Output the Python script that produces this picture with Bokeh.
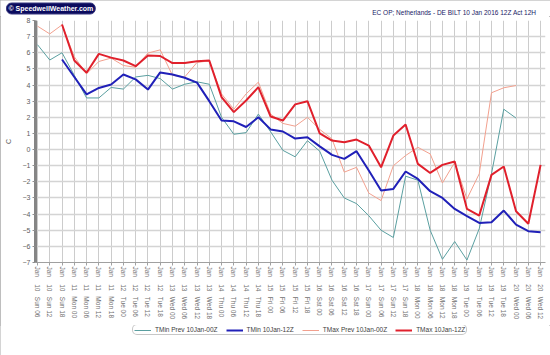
import math
from bokeh.plotting import figure
from bokeh.layouts import column
from bokeh.models import FixedTicker, Label, Legend, LegendItem, Range1d
from bokeh.embed import file_html
from bokeh.resources import INLINE

# ---------------- data ----------------
x_labels = [
    "Jan 10 Sun 06", "Jan 10 Sun 12", "Jan 10 Sun 18",
    "Jan 11 Mon 00", "Jan 11 Mon 06", "Jan 11 Mon 12", "Jan 11 Mon 18",
    "Jan 12 Tue 00", "Jan 12 Tue 06", "Jan 12 Tue 12", "Jan 12 Tue 18",
    "Jan 13 Wed 00", "Jan 13 Wed 06", "Jan 13 Wed 12", "Jan 13 Wed 18",
    "Jan 14 Thu 00", "Jan 14 Thu 06", "Jan 14 Thu 12", "Jan 14 Thu 18",
    "Jan 15 Fri 00", "Jan 15 Fri 06", "Jan 15 Fri 12", "Jan 15 Fri 18",
    "Jan 16 Sat 00", "Jan 16 Sat 06", "Jan 16 Sat 12", "Jan 16 Sat 18",
    "Jan 17 Sun 00", "Jan 17 Sun 06", "Jan 17 Sun 12", "Jan 17 Sun 18",
    "Jan 18 Mon 00", "Jan 18 Mon 06", "Jan 18 Mon 12", "Jan 18 Mon 18",
    "Jan 19 Tue 00", "Jan 19 Tue 06", "Jan 19 Tue 12", "Jan 19 Tue 18",
    "Jan 20 Wed 00", "Jan 20 Wed 06", "Jan 20 Wed 12",
]

# previous run (00Z): Jan 10 06 .. Jan 20 00
prev_idx = list(range(0, 40))
tmin_prev = [6.5, 5.55, 6.0, 4.6, 3.2, 3.2, 3.85, 3.75, 4.5, 4.6,
             4.4, 3.75, 4.05, 4.2, 4.05, 2.0, 0.95, 1.05, 2.2, 1.1,
             -0.05, -0.45, 0.55, -0.1, -1.9, -3.0, -3.35, -4.1, -5.0, -5.45,
             -1.65, -1.9, -5.0, -6.8, -5.7, -6.85, -4.9, -1.5, 2.5, 1.95]
tmax_prev = [7.65, 7.17, 7.73, 5.75, 4.7, 5.46, 5.67, 5.21, 5.1, 5.98,
             6.18, 4.6, 4.5, 5.4, 5.5, 3.45, 2.5, 3.45, 4.18, 2.2,
             1.62, 1.45, 2.0, 1.25, 0.66, -1.4, -1.1, -2.7, -3.16, -1.0,
             -0.37, 0.14, -0.27, -2.07, -0.79, -3.06, -1.5, 3.52, 3.83, 3.97]

# current run (12Z): Jan 10 18 .. Jan 20 12
cur_idx = list(range(2, 42))
tmin_cur = [5.58, 4.5, 3.42, 3.82, 4.03, 4.65, 4.35, 3.72, 4.78, 4.65,
            4.45, 4.15, 3.0, 1.8, 1.75, 1.4, 2.0, 1.25, 1.12, 0.68,
            0.76, 0.2, -0.33, -0.58, -0.1, -1.3, -2.54, -2.44, -1.36, -1.82,
            -2.58, -3.0, -3.68, -4.13, -4.55, -4.5, -3.78, -4.65, -5.06, -5.12]
tmax_cur = [7.75, 5.52, 4.76, 5.93, 5.7, 5.52, 5.17, 5.83, 5.8, 5.36,
            5.36, 5.48, 5.52, 3.25, 2.32, 3.04, 3.87, 2.05, 1.8, 2.8,
            3.0, 1.0, 0.56, 0.45, 0.62, 0.25, -1.1, 0.87, 1.55, -0.89,
            -1.45, -0.95, -0.74, -3.68, -4.09, -1.57, -1.05, -3.82, -4.6, -0.95]

y_ticks = list(range(-7, 9))
series_names = ["TMin Prev 10Jan-00Z", "TMin 10Jan-12Z",
                "TMax Prev 10Jan-00Z", "TMax 10Jan-12Z"]
series_colors = ["#5a9fa0", "#2020b8", "#f2a08e", "#e0202c"]
series_widths = [1, 2, 1, 2]
title_text = "EC OP; Netherlands - DE BILT 10 Jan 2016 12Z Act 12H"
logo_text = "\u00a9 SpeedwellWeather.com"
y_title = "C"

FONT = "Liberation Sans"

def bare(h):
    f = figure(width=550, height=h, x_range=Range1d(0, 550), y_range=Range1d(h, 0),
               output_backend="svg", toolbar_location=None, min_border=0,
               x_axis_type=None, y_axis_type=None)
    f.outline_line_color = None
    f.border_fill_color = "white"
    f.background_fill_color = "white"
    try:
        f.frame_align = False
    except Exception:
        pass
    return f

# ---------------- header strip (logo + title) ----------------
hdr = bare(16)
hdr.add_layout(Label(x=6, y=8, text=logo_text,
                     text_font=FONT, text_font_size="7px", text_font_style="bold",
                     text_color="white", text_align="left", text_baseline="middle",
                     background_fill_color="#0b0b5e", border_line_color="#3a3a80",
                     padding=2, border_radius=5))
hdr.add_layout(Label(x=536, y=12, text=title_text,
                     text_font=FONT, text_font_size="6.5px", text_color="#1a1a66",
                     text_align="right", text_baseline="middle"))

# ---------------- main chart ----------------
p = figure(width=550, height=309,
           x_range=Range1d(-0.163, 41.4), y_range=Range1d(-7, 8),
           output_backend="svg", toolbar_location=None,
           min_border_left=35, min_border_right=5,
           min_border_top=4, min_border_bottom=63)
p.outline_line_color = None
p.background_fill_color = "white"
p.border_fill_color = "white"
try:
    p.frame_align = False
except Exception:
    pass

x_ticks = list(range(len(x_labels)))
p.xaxis.ticker = FixedTicker(ticks=x_ticks)
def fmt(s):
    a, b, c, d = s.split(" ")
    return a + "\u00a0" * 4 + b + "\u00a0" * 3 + c + " " + d
p.xaxis.major_label_overrides = {i: fmt(s) for i, s in enumerate(x_labels)}
p.xaxis.major_label_orientation = "vertical"
p.xaxis.major_label_text_font = FONT
p.xaxis.major_label_text_font_size = "6.5px"
p.xaxis.major_label_text_color = "#707070"
p.xaxis.major_label_standoff = 1
p.xaxis.axis_line_color = "#a0a0a0"
p.xaxis.major_tick_line_color = "#a0a0a0"
p.xaxis.major_tick_out = 3
p.xaxis.major_tick_in = 0
p.xaxis.minor_tick_line_color = None

p.yaxis.ticker = FixedTicker(ticks=y_ticks)
p.yaxis.major_label_text_font = FONT
p.yaxis.major_label_text_font_size = "7px"
p.yaxis.major_label_text_color = "#606060"
p.yaxis.major_label_standoff = 2
p.yaxis.axis_line_color = "#858585"
p.yaxis.axis_line_width = 3
p.yaxis.major_tick_line_color = "#909090"
p.yaxis.major_tick_out = 3
p.yaxis.major_tick_in = 0
p.yaxis.minor_tick_line_color = None
p.yaxis.axis_label = y_title
p.yaxis.axis_label_text_font = FONT
p.yaxis.axis_label_text_font_size = "7px"
p.yaxis.axis_label_text_font_style = "normal"
p.yaxis.axis_label_text_color = "#606060"
p.yaxis.axis_label_standoff = 8

p.xgrid.grid_line_color = "#cccccc"
p.xgrid.grid_line_width = 1
p.ygrid.grid_line_color = "#d4d4d4"
p.ygrid.grid_line_width = 1.5

p.line(prev_idx, tmin_prev, line_color=series_colors[0], line_width=series_widths[0])
p.line(prev_idx, tmax_prev, line_color=series_colors[2], line_width=series_widths[2])
p.line(cur_idx, tmin_cur, line_color=series_colors[1], line_width=series_widths[1])
p.line(cur_idx, tmax_cur, line_color=series_colors[3], line_width=series_widths[3])

# ---------------- footer with legend ----------------
ftr = bare(30)
items = []
for name, col, w in zip(series_names, series_colors, series_widths):
    # legend-only renderer, its points lie outside the visible range
    r = ftr.line(x=[-100, -90], y=[-100, -100], line_color=col, line_width=w)
    items.append(LegendItem(label=name, renderers=[r]))
legend = Legend(items=items, orientation="horizontal", location=(132, 20),
                label_text_font=FONT, label_text_font_size="6.5px",
                label_text_color="#404040",
                glyph_width=17, glyph_height=6, label_height=6,
                spacing=8, padding=1, margin=0, label_standoff=4,
                border_line_color="#909090", border_line_width=1,
                background_fill_color="white", background_fill_alpha=1)
try:
    legend.border_radius = 5
except Exception:
    pass
ftr.add_layout(legend)

layout = column(hdr, p, ftr, spacing=0)
try:
    layout.styles = {"outline": "1px solid #a8a8a8", "outline-offset": "-1px"}
except Exception:
    pass
open("out.html", "w").write(file_html(layout, INLINE))
